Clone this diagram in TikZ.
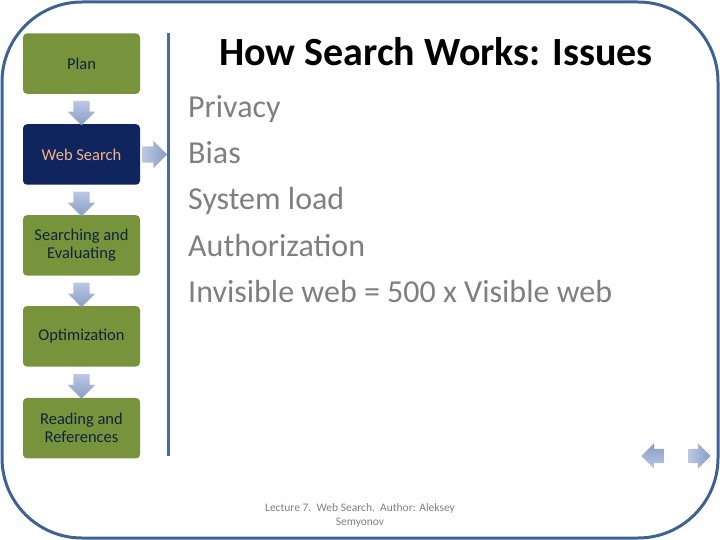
\documentclass[tikz,border=0pt]{standalone}
\usepackage{fontspec}
\setmainfont{Carlito}
\usetikzlibrary{positioning, shapes.arrows, calc}
\definecolor{stepgreen}{HTML}{77933C}
\definecolor{stepnavy}{HTML}{10245E}
\definecolor{steptext}{HTML}{0F243E}
\definecolor{webtext}{HTML}{F2B48A}
\definecolor{frameblue}{HTML}{3E6291}
\definecolor{ruleblue}{HTML}{4C6C98}
\definecolor{arrowlight}{HTML}{BAC8E4}
\definecolor{arrowdark}{HTML}{8A9CC5}
\definecolor{issuegray}{HTML}{7F7F7F}
\tikzset{
x=1pt, y=-1pt, % pixel coordinates, y grows downwards
node distance=30pt, % gap between two steps
stepbox/.style={rectangle, rounded corners=4pt, fill=stepgreen, text=steptext, minimum width=117pt, minimum height=60.5pt, align=center, font=\fontsize{16.5}{18}\selectfont}, % a step of the lecture
current/.style={fill=stepnavy, text=webtext}, % the step we are in
blockarrow/.style={single arrow, draw=none, inner sep=8pt, minimum height=24pt, single arrow head extend=5.5pt}, % arrows between the steps
downarrow/.style={blockarrow, shape border rotate=270, top color=arrowlight, bottom color=arrowdark},
sidearrow/.style={blockarrow, left color=arrowlight, right color=arrowdark},
issue/.style={anchor=base west, inner sep=0pt, text=issuegray, font=\fontsize{32}{36}\selectfont}, % one line of the list
}

\begin{document}
\begin{tikzpicture}
    \useasboundingbox (0,0) rectangle (720,540);
    \draw[frameblue, line width=3pt, rounded corners=80pt] (2,2) rectangle (718,538);

    % steps on the left
    \node[stepbox] (plan) at (81.5,63.6) {Plan};
    \node[stepbox, current, below=of plan] (web) {Web Search};
    \node[stepbox, below=of web] (search) {Searching and\\Evaluating};
    \node[stepbox, below=of search] (optim) {Optimization};
    \node[stepbox, below=31pt of optim] (reading) {Reading and\\References};
    \node[downarrow] at ($(plan.south)!0.5!(web.north)$) {};
    \node[downarrow] at ($(web.south)!0.5!(search.north)$) {};
    \node[downarrow] at ($(search.south)!0.5!(optim.north)$) {};
    \node[downarrow] at ($(optim.south)!0.5!(reading.north)$) {};
    \node[sidearrow, right=2pt of web] (webarrow) {};

    \coordinate (ruletop) at (168,33);
    \coordinate (rulebot) at (168,456);
    \draw[ruleblue, line width=3pt] (ruletop) -- (rulebot);

    % title and list
    \node[anchor=base, inner sep=0pt, font=\fontsize{40}{46}\selectfont\bfseries] (title) at (436,66) {How Search Works: Issues};
    \foreach \txt [count=\i] in {Privacy, Bias, System load, Authorization, Invisible web = 500 x Visible web}
      \node[issue] (issue\i) at (188,{118+46*(\i-1)}) {\txt};

    % footer and navigation
    \node[text=issuegray, align=center, font=\fontsize{11.5}{14}\selectfont] (footer) at (360,515) {Lecture 7.~~Web Search.~~Author: Aleksey\\Semyonov};
    \node[blockarrow, shape border rotate=180, inner sep=7pt, minimum height=22pt, top color=arrowdark, bottom color=arrowlight] (prev) at (656,456) {};
    \node[sidearrow, inner sep=7pt, minimum height=22pt] (next) at (696,456) {};
  \end{tikzpicture}
\end{document}
